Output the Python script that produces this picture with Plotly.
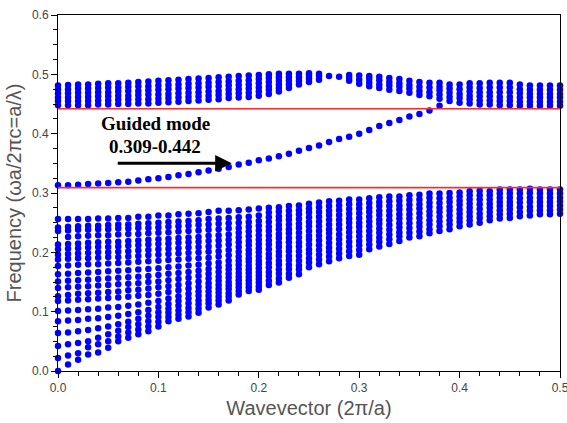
import plotly.graph_objects as go

# Wavevector sampling points (units of 2*pi/a)
wavevector = [0.00, 0.01, 0.02, 0.03, 0.04, 0.05, 0.06, 0.07, 0.08, 0.09,
              0.10, 0.11, 0.12, 0.13, 0.14, 0.15, 0.16, 0.17, 0.18, 0.19,
              0.20, 0.21, 0.22, 0.23, 0.24, 0.25, 0.26, 0.27, 0.28, 0.29,
              0.30, 0.31, 0.32, 0.33, 0.34, 0.35, 0.36, 0.37, 0.38, 0.39,
              0.40, 0.41, 0.42, 0.43, 0.44, 0.45, 0.46, 0.47, 0.48, 0.49, 0.50]

# Projected modes below the gap, one list of frequencies per wavevector
lower_modes = [
    [0.000, 0.022, 0.042, 0.064, 0.084, 0.101, 0.118, 0.126, 0.140, 0.151, 0.163, 0.177, 0.188, 0.196, 0.205, 0.213, 0.236, 0.242, 0.256],
    [0.011, 0.026, 0.045, 0.065, 0.085, 0.102, 0.119, 0.128, 0.141, 0.152, 0.164, 0.178, 0.189, 0.197, 0.206, 0.214, 0.226, 0.237, 0.243, 0.256],
    [0.019, 0.030, 0.047, 0.067, 0.086, 0.103, 0.120, 0.130, 0.142, 0.153, 0.165, 0.179, 0.190, 0.198, 0.207, 0.215, 0.227, 0.238, 0.244, 0.256],
    [0.028, 0.040, 0.050, 0.069, 0.088, 0.104, 0.121, 0.131, 0.143, 0.154, 0.166, 0.180, 0.190, 0.199, 0.208, 0.216, 0.228, 0.238, 0.245, 0.256],
    [0.031, 0.045, 0.056, 0.072, 0.089, 0.105, 0.122, 0.132, 0.144, 0.155, 0.167, 0.180, 0.191, 0.200, 0.209, 0.217, 0.229, 0.239, 0.245, 0.257],
    [0.039, 0.050, 0.062, 0.075, 0.091, 0.107, 0.123, 0.133, 0.145, 0.156, 0.168, 0.181, 0.192, 0.200, 0.209, 0.218, 0.229, 0.239, 0.246, 0.257],
    [0.050, 0.058, 0.068, 0.079, 0.093, 0.108, 0.124, 0.134, 0.146, 0.157, 0.169, 0.182, 0.192, 0.201, 0.210, 0.218, 0.230, 0.240, 0.247, 0.258],
    [0.056, 0.065, 0.074, 0.083, 0.096, 0.110, 0.125, 0.136, 0.147, 0.158, 0.170, 0.183, 0.193, 0.202, 0.211, 0.219, 0.231, 0.240, 0.247, 0.258],
    [0.062, 0.070, 0.079, 0.088, 0.099, 0.112, 0.127, 0.137, 0.148, 0.159, 0.171, 0.184, 0.194, 0.203, 0.212, 0.220, 0.231, 0.241, 0.248, 0.260],
    [0.067, 0.075, 0.084, 0.093, 0.103, 0.115, 0.128, 0.139, 0.150, 0.160, 0.172, 0.185, 0.195, 0.204, 0.213, 0.221, 0.232, 0.241, 0.249, 0.260],
    [0.075, 0.083, 0.091, 0.099, 0.108, 0.118, 0.130, 0.141, 0.151, 0.162, 0.173, 0.186, 0.196, 0.205, 0.214, 0.222, 0.233, 0.242, 0.250, 0.262],
    [0.084, 0.091, 0.098, 0.105, 0.113, 0.122, 0.133, 0.143, 0.153, 0.164, 0.175, 0.187, 0.197, 0.206, 0.215, 0.223, 0.234, 0.243, 0.251, 0.262],
    [0.088, 0.095, 0.102, 0.110, 0.118, 0.126, 0.136, 0.145, 0.155, 0.165, 0.176, 0.188, 0.198, 0.207, 0.216, 0.224, 0.235, 0.244, 0.252, 0.264],
    [0.092, 0.099, 0.106, 0.114, 0.122, 0.130, 0.139, 0.148, 0.157, 0.167, 0.178, 0.189, 0.199, 0.208, 0.217, 0.225, 0.236, 0.245, 0.253, 0.265],
    [0.098, 0.105, 0.112, 0.119, 0.127, 0.134, 0.142, 0.151, 0.160, 0.169, 0.179, 0.190, 0.200, 0.209, 0.218, 0.226, 0.237, 0.246, 0.254, 0.266],
    [0.107, 0.114, 0.120, 0.127, 0.134, 0.141, 0.148, 0.156, 0.164, 0.172, 0.181, 0.191, 0.201, 0.210, 0.219, 0.228, 0.238, 0.247, 0.256, 0.268],
    [0.112, 0.119, 0.125, 0.132, 0.138, 0.145, 0.152, 0.159, 0.167, 0.175, 0.183, 0.193, 0.202, 0.211, 0.220, 0.229, 0.239, 0.248, 0.257, 0.270],
    [0.119, 0.125, 0.131, 0.138, 0.144, 0.150, 0.157, 0.164, 0.171, 0.178, 0.186, 0.195, 0.204, 0.213, 0.221, 0.230, 0.240, 0.249, 0.258, 0.270],
    [0.129, 0.135, 0.141, 0.147, 0.153, 0.159, 0.165, 0.172, 0.179, 0.186, 0.193, 0.201, 0.209, 0.217, 0.225, 0.233, 0.241, 0.250, 0.259, 0.271],
    [0.135, 0.141, 0.147, 0.153, 0.159, 0.165, 0.171, 0.177, 0.184, 0.190, 0.197, 0.204, 0.212, 0.219, 0.227, 0.235, 0.243, 0.251, 0.260, 0.272],
    [0.137, 0.143, 0.149, 0.155, 0.161, 0.167, 0.173, 0.180, 0.186, 0.193, 0.200, 0.207, 0.214, 0.221, 0.229, 0.237, 0.245, 0.253, 0.262, 0.274],
    [0.145, 0.152, 0.160, 0.167, 0.175, 0.182, 0.190, 0.197, 0.205, 0.213, 0.220, 0.228, 0.236, 0.243, 0.251, 0.259, 0.267, 0.275],
    [0.149, 0.156, 0.164, 0.171, 0.179, 0.186, 0.194, 0.201, 0.209, 0.216, 0.224, 0.231, 0.239, 0.246, 0.254, 0.261, 0.269, 0.276],
    [0.157, 0.164, 0.172, 0.179, 0.187, 0.194, 0.202, 0.209, 0.217, 0.224, 0.232, 0.239, 0.247, 0.255, 0.262, 0.270, 0.278],
    [0.163, 0.171, 0.178, 0.186, 0.194, 0.202, 0.210, 0.217, 0.225, 0.233, 0.241, 0.248, 0.256, 0.264, 0.271, 0.279],
    [0.175, 0.183, 0.190, 0.198, 0.205, 0.213, 0.221, 0.228, 0.236, 0.244, 0.251, 0.259, 0.267, 0.274, 0.282],
    [0.180, 0.188, 0.196, 0.204, 0.212, 0.220, 0.228, 0.236, 0.244, 0.252, 0.260, 0.268, 0.276, 0.284],
    [0.185, 0.193, 0.201, 0.208, 0.216, 0.224, 0.232, 0.239, 0.247, 0.255, 0.263, 0.270, 0.278, 0.286],
    [0.190, 0.198, 0.206, 0.214, 0.222, 0.230, 0.239, 0.247, 0.255, 0.263, 0.271, 0.279, 0.287],
    [0.194, 0.202, 0.210, 0.218, 0.226, 0.234, 0.242, 0.250, 0.257, 0.265, 0.273, 0.281, 0.289],
    [0.196, 0.204, 0.212, 0.219, 0.227, 0.235, 0.243, 0.250, 0.258, 0.266, 0.274, 0.281, 0.289],
    [0.205, 0.213, 0.221, 0.228, 0.236, 0.244, 0.252, 0.260, 0.268, 0.275, 0.283, 0.291],
    [0.210, 0.218, 0.225, 0.233, 0.240, 0.248, 0.255, 0.263, 0.270, 0.278, 0.285, 0.293],
    [0.214, 0.222, 0.230, 0.238, 0.246, 0.254, 0.262, 0.270, 0.278, 0.286, 0.294],
    [0.219, 0.227, 0.234, 0.242, 0.249, 0.257, 0.264, 0.272, 0.279, 0.287, 0.294],
    [0.225, 0.233, 0.241, 0.249, 0.257, 0.264, 0.272, 0.280, 0.288, 0.296],
    [0.227, 0.235, 0.243, 0.250, 0.258, 0.266, 0.274, 0.281, 0.289, 0.297],
    [0.232, 0.239, 0.247, 0.254, 0.262, 0.269, 0.277, 0.284, 0.292, 0.299],
    [0.236, 0.244, 0.252, 0.260, 0.268, 0.275, 0.283, 0.291, 0.299],
    [0.239, 0.247, 0.254, 0.262, 0.270, 0.277, 0.285, 0.292, 0.300],
    [0.244, 0.251, 0.258, 0.265, 0.272, 0.280, 0.287, 0.294, 0.301],
    [0.247, 0.254, 0.261, 0.268, 0.275, 0.282, 0.289, 0.296, 0.303],
    [0.250, 0.258, 0.265, 0.273, 0.281, 0.289, 0.296, 0.304],
    [0.254, 0.261, 0.268, 0.275, 0.282, 0.289, 0.296, 0.303],
    [0.257, 0.264, 0.271, 0.278, 0.285, 0.292, 0.299, 0.306],
    [0.258, 0.265, 0.272, 0.279, 0.285, 0.292, 0.299, 0.306],
    [0.261, 0.268, 0.276, 0.284, 0.291, 0.299, 0.306],
    [0.262, 0.270, 0.277, 0.285, 0.292, 0.300, 0.307],
    [0.264, 0.271, 0.278, 0.285, 0.292, 0.299, 0.306],
    [0.264, 0.271, 0.278, 0.285, 0.292, 0.299, 0.306],
    [0.265, 0.272, 0.279, 0.286, 0.292, 0.299, 0.306],
]

# Projected modes above the gap, one list per wavevector
upper_modes = [
    [0.448, 0.455, 0.461, 0.468, 0.475, 0.481],
    [0.448, 0.455, 0.461, 0.468, 0.475, 0.482],
    [0.448, 0.455, 0.462, 0.469, 0.476, 0.483],
    [0.448, 0.455, 0.462, 0.469, 0.476, 0.483],
    [0.449, 0.456, 0.463, 0.470, 0.477, 0.484],
    [0.449, 0.456, 0.463, 0.470, 0.478, 0.485],
    [0.450, 0.457, 0.464, 0.471, 0.478, 0.485],
    [0.450, 0.457, 0.464, 0.472, 0.479, 0.486],
    [0.451, 0.458, 0.465, 0.472, 0.480, 0.487],
    [0.451, 0.458, 0.466, 0.473, 0.480, 0.488],
    [0.452, 0.459, 0.466, 0.474, 0.481, 0.489],
    [0.453, 0.460, 0.467, 0.475, 0.482, 0.490],
    [0.454, 0.461, 0.468, 0.476, 0.483, 0.491],
    [0.455, 0.462, 0.469, 0.477, 0.484, 0.492],
    [0.456, 0.463, 0.470, 0.478, 0.485, 0.493],
    [0.457, 0.464, 0.471, 0.479, 0.486, 0.494],
    [0.458, 0.465, 0.472, 0.480, 0.487, 0.495],
    [0.460, 0.467, 0.474, 0.481, 0.488, 0.496],
    [0.461, 0.468, 0.475, 0.482, 0.489, 0.497],
    [0.462, 0.469, 0.476, 0.483, 0.490, 0.498],
    [0.464, 0.471, 0.478, 0.485, 0.492, 0.499],
    [0.467, 0.474, 0.480, 0.487, 0.494, 0.500],
    [0.471, 0.477, 0.483, 0.489, 0.495, 0.501],
    [0.477, 0.483, 0.489, 0.495, 0.501],
    [0.483, 0.489, 0.495, 0.501],
    [0.487, 0.493, 0.498, 0.502],
    [0.491, 0.497, 0.501],
    [0.497],
    [0.496],
    [0.489, 0.494, 0.499],
    [0.484, 0.491, 0.498],
    [0.480, 0.486, 0.492, 0.497],
    [0.477, 0.483, 0.490, 0.496],
    [0.474, 0.481, 0.487, 0.494],
    [0.472, 0.479, 0.485, 0.492],
    [0.469, 0.476, 0.482, 0.489],
    [0.465, 0.472, 0.479, 0.487],
    [0.463, 0.470, 0.478, 0.486],
    [0.459, 0.466, 0.473, 0.479, 0.486],
    [0.455, 0.462, 0.469, 0.476, 0.483],
    [0.452, 0.460, 0.467, 0.475, 0.483],
    [0.451, 0.458, 0.464, 0.471, 0.478, 0.485],
    [0.449, 0.456, 0.463, 0.470, 0.477, 0.485],
    [0.449, 0.456, 0.463, 0.470, 0.478, 0.486],
    [0.448, 0.455, 0.462, 0.470, 0.478, 0.486],
    [0.448, 0.455, 0.462, 0.470, 0.478, 0.486],
    [0.447, 0.454, 0.461, 0.468, 0.475, 0.483],
    [0.447, 0.454, 0.461, 0.467, 0.474, 0.481],
    [0.447, 0.454, 0.461, 0.467, 0.474, 0.481],
    [0.447, 0.454, 0.461, 0.467, 0.474, 0.481],
    [0.447, 0.454, 0.461, 0.467, 0.474, 0.481],
]

# Guided defect mode inside the gap (k = 0.00 ... 0.38)
guided_mode = [0.313, 0.313, 0.314, 0.315, 0.316, 0.317, 0.318, 0.319, 0.321, 0.323,
               0.325, 0.327, 0.330, 0.332, 0.335, 0.338, 0.341, 0.344, 0.348, 0.351,
               0.355, 0.358, 0.362, 0.366, 0.371, 0.376, 0.380, 0.386, 0.391, 0.395,
               0.400, 0.406, 0.413, 0.418, 0.423, 0.429, 0.433, 0.439, 0.447]

# Band-gap edges
gap_edges = [0.309, 0.442]
guided_label = "Guided mode"
range_label = "0.309-0.442"

# Axis tick positions and labels
x_ticks = [0.0, 0.1, 0.2, 0.3, 0.4, 0.5]
x_tick_text = ["0.0", "0.1", "0.2", "0.3", "0.4", "0.5"]
y_ticks = [0.0, 0.1, 0.2, 0.3, 0.4, 0.5, 0.6]
y_tick_text = ["0.0", "0.1", "0.2", "0.3", "0.4", "0.5", "0.6"]

band_x, band_y = [], []
for k, col in zip(wavevector, lower_modes):
    band_x += [k] * len(col)
    band_y += col
for k, col in zip(wavevector, upper_modes):
    band_x += [k] * len(col)
    band_y += col
band_x += wavevector[:len(guided_mode)]
band_y += guided_mode

fig = go.Figure()
fig.add_trace(go.Scatter(
    x=band_x, y=band_y, mode="markers", cliponaxis=False, showlegend=False,
    marker=dict(color="#0000ff", size=6.5, line=dict(width=0)),
))

for edge in gap_edges:
    fig.add_shape(type="line", xref="x", yref="y", x0=0, x1=0.5, y0=edge, y1=edge,
                  line=dict(color="#ff2a2a", width=1.6), layer="above")

serif = "Liberation Serif, Times New Roman, serif"
fig.add_annotation(x=0.097, y=0.417, xref="x", yref="y", text=f"<b>{guided_label}</b>",
                   showarrow=False, font=dict(family=serif, size=19, color="#000000"))
fig.add_annotation(x=0.097, y=0.379, xref="x", yref="y", text=f"<b>{range_label}</b>",
                   showarrow=False, font=dict(family=serif, size=19, color="#000000"))
fig.add_annotation(x=0.173, y=0.350, ax=0.058, ay=0.350, xref="x", yref="y",
                   axref="x", ayref="y", text="", showarrow=True, arrowhead=2,
                   arrowsize=1.1, arrowwidth=3, arrowcolor="#000000", standoff=0)

sans = "Liberation Sans, Arial, sans-serif"
axis_common = dict(
    showline=True, linecolor="#000000", linewidth=1, mirror=True,
    ticks="outside", ticklen=6, tickwidth=1, tickcolor="#000000",
    showgrid=False, zeroline=False, automargin=False, ticklabeloverflow="allow",
    tickfont=dict(family=sans, size=12, color="#444444"),
)
fig.update_xaxes(range=[0, 0.5], tickmode="array", tickvals=x_ticks, ticktext=x_tick_text,
                 minor=dict(dtick=0.02, tick0=0, ticks="outside", ticklen=4, tickcolor="#000000"),
                 title=dict(text="Wavevector (2π/a)", standoff=6,
                            font=dict(family=sans, size=20, color="#555555")),
                 **axis_common)
fig.update_yaxes(range=[0, 0.6], tickmode="array", tickvals=y_ticks, ticktext=y_tick_text,
                 minor=dict(dtick=0.025, tick0=0, ticks="outside", ticklen=4, tickcolor="#000000"),
                 title=dict(text="Frequency (ωa/2πc=a/λ)", standoff=4,
                            font=dict(family=sans, size=20, color="#555555")),
                 **axis_common)

fig.update_layout(
    width=567, height=423,
    margin=dict(l=58, r=7, t=15, b=52),
    plot_bgcolor="#ffffff", paper_bgcolor="#ffffff",
)

fig.write_html("out.html")
